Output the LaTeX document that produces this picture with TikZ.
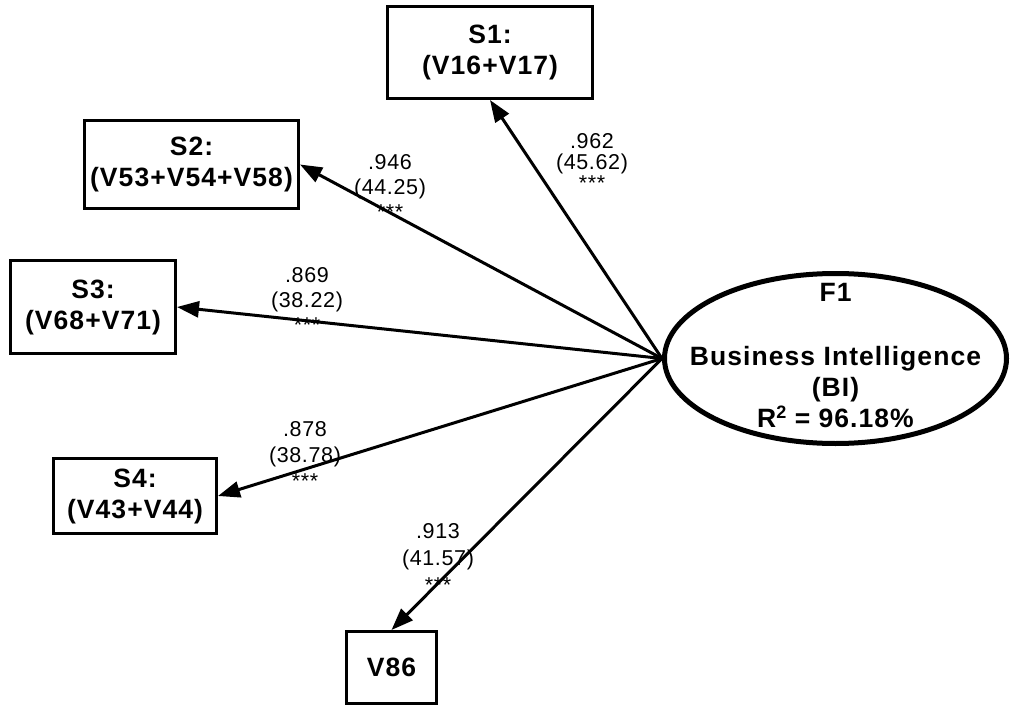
\documentclass[tikz,border=0pt]{standalone}
\usepackage{fontspec}
\setmainfont{Liberation Sans}
\newfontfamily\spfont[LetterSpace=4]{Liberation Sans}
\newfontfamily\lbfont[LetterSpace=3]{Liberation Sans}
\usetikzlibrary{shapes.geometric,arrows.meta}
\newcommand{\boxtxt}{\spfont\bfseries\fontsize{26.5}{31}\selectfont}
\newcommand{\labtxt}[1]{\lbfont\fontsize{21.5}{#1}\selectfont}
\newcommand{\hisup}[1]{\raisebox{9pt}{\spfont\bfseries\fontsize{18}{18}\selectfont #1}}
\tikzset{
  varbox/.style={draw,line width=3pt,rectangle,inner sep=0pt,align=center,font=\boxtxt},
  latent/.style={draw,line width=5pt,ellipse,inner sep=0pt},
  arr/.style={line width=3pt,-{Triangle[length=22pt,width=16pt]}},
  lab/.style={align=center,inner sep=0pt}
}
\begin{document}
\begin{tikzpicture}[x=1pt,y=-1pt]
\useasboundingbox (0,0) rectangle (1010,706);
% boxes
\node[varbox,minimum width=205pt,minimum height=92pt] (S1) at (490,52.5) {S1:\\(V16+V17)};
\node[varbox,minimum width=214pt,minimum height=88pt] (S2) at (191.5,164.5) {S2:\\(V53+V54+V58)};
\node[varbox,minimum width=165pt,minimum height=93pt] (S3) at (93,307) {S3:\\(V68+V71)};
\node[varbox,minimum width=163pt,minimum height=75pt] (S4) at (135,496) {S4:\\(V43+V44)};
\node[varbox,minimum width=90pt,minimum height=72pt] (V86) at (391.5,667.5) {V86};
% latent
\node[latent,minimum width=342pt,minimum height=170pt] (F1) at (835.5,358.5) {};
\node[align=center,inner sep=0pt,font=\boxtxt] (F1text) at (835.5,356) {F1\\[33pt]Business Intelligence\\(BI)\\R\hisup{2} = 96.18\%};
% labels
\node[lab,font=\labtxt{21}] (L1) at (592,162) {.962\\(45.62)\\***};
\node[lab,font=\labtxt{25}] (L2) at (390,187) {.946\\(44.25)\\***};
\node[lab,font=\labtxt{25}] (L3) at (307,300) {.869\\(38.22)\\***};
\node[lab,font=\labtxt{26}] (L4) at (305,455) {.878\\(38.78)\\***};
\node[lab,font=\labtxt{27}] (L5) at (438,558) {.913\\(41.57)\\***};
% arrows
\draw[arr] (F1.west) -- (S1.south);
\draw[arr] (F1.west) -- (S2.east);
\draw[arr] (F1.west) -- (S3.east);
\draw[arr] (F1.west) -- (S4.east);
\draw[arr] (F1.west) -- (V86.north);
\end{tikzpicture}
\end{document}
